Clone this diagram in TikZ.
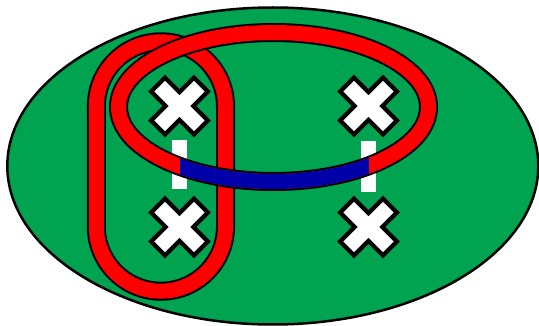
\documentclass[tikz,border=0pt]{standalone}
\usepackage{tikz}
\usetikzlibrary{calc}
\definecolor{surfgreen}{RGB}{0,164,80}
\definecolor{ringred}{RGB}{255,0,0}
\definecolor{ringblue}{RGB}{0,0,170}
\tikzset{
  % surface
  surface/.style={draw=black, line width=2.5pt, fill=surfgreen},
  % band: black outline, then coloured core
  bandline/.style={line width=19pt, draw=black},
  bandfill/.style={line width=15pt, draw=#1},
  bandfill/.default={ringred},
  % cross marker
  crossout/.style={line width=24pt, line cap=rect, draw=black},
  crossin/.style={line width=15pt, line cap=rect, draw=white},
  % white gap bar
  gapbar/.style={fill=white, draw=none},
}

\begin{document}
\begin{tikzpicture}[x=1pt, y=-1pt]
  \useasboundingbox (0,0) rectangle (539,326);
  \coordinate (surf) at (272.8,166);
  \coordinate (ring) at (273.5,107);
  \coordinate (xtl) at (179.5,106);
  \coordinate (xtr) at (368.5,106);
  \coordinate (xbl) at (179.5,227);
  \coordinate (xbr) at (368.5,227);

  \draw[surface] (surf) ellipse [x radius=265.5, y radius=158.5];

  % gap bars under the ring
  \fill[gapbar] (172,140) rectangle (187,189.5);
  \fill[gapbar] (361,141.5) rectangle (376,192.5);

  % vertical loop
  \draw[bandline, rounded corners=64.6pt] (96.3,41.8) rectangle (225.5,291.2);
  \draw[bandfill, rounded corners=64.6pt] (96.3,41.8) rectangle (225.5,291.2);

  % horizontal ring
  \draw[bandline] (ring) ellipse [x radius=155, y radius=74.5];
  \draw[bandfill] (ring) ellipse [x radius=155, y radius=74.5];
  \begin{scope}
    \clip (180,100) rectangle (368.8,200);
    \draw[bandfill=ringblue] (ring) ellipse [x radius=155, y radius=74.5];
  \end{scope}

  % crosses
  \foreach \c in {xtl,xtr,xbl,xbr}{
    \draw[crossout] ($(\c)+(-14.5,-14.5)$) -- ($(\c)+(14.5,14.5)$)
                    ($(\c)+(-14.5,14.5)$) -- ($(\c)+(14.5,-14.5)$);
    \draw[crossin]  ($(\c)+(-14.5,-14.5)$) -- ($(\c)+(14.5,14.5)$)
                    ($(\c)+(-14.5,14.5)$) -- ($(\c)+(14.5,-14.5)$);
  }
\end{tikzpicture}
\end{document}
